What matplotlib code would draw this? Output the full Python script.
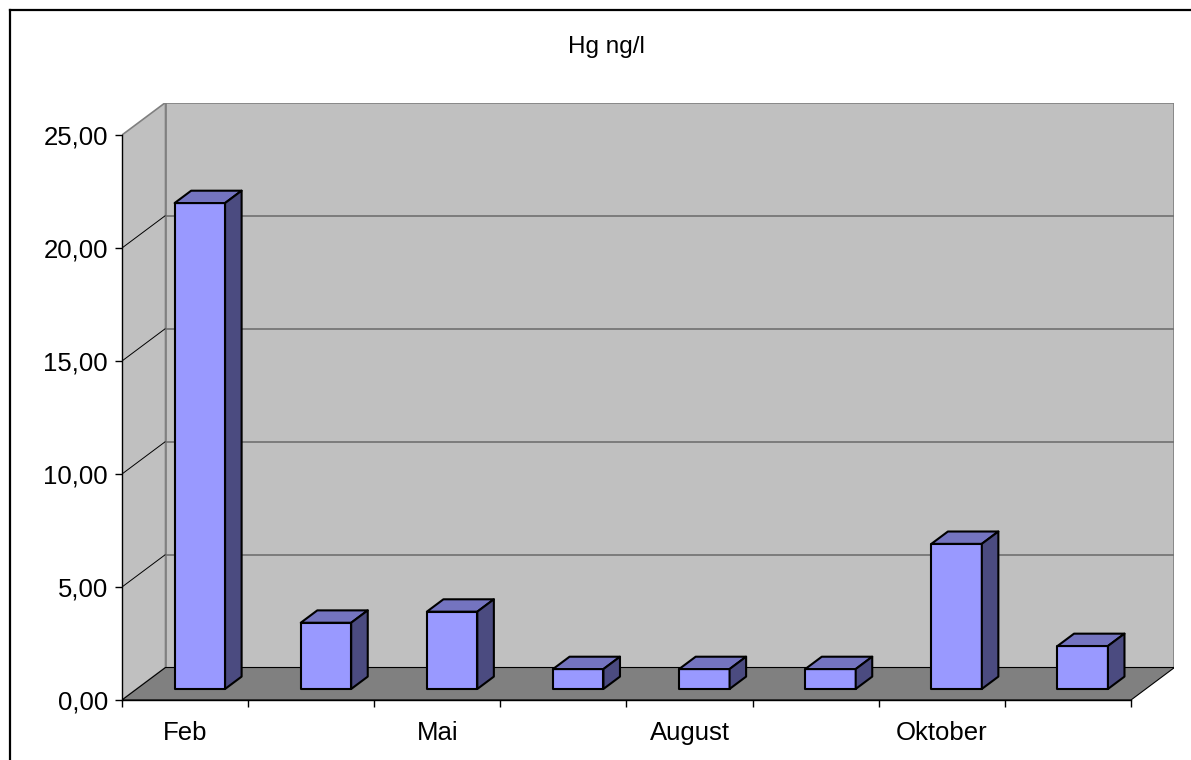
import numpy as np
import matplotlib.pyplot as plt
from matplotlib.patches import Polygon
from matplotlib.lines import Line2D

plt.rcParams['font.family'] = ['Liberation Sans', 'DejaVu Sans']

# data
months = ['Feb', 'April', 'Mai', 'Juli', 'August', 'September', 'Oktober', 'November']
hg_values = [21.5, 2.93, 3.42, 0.88, 0.88, 0.88, 6.42, 1.90]
y_ticks = [0, 5, 10, 15, 20, 25]
title = 'Hg ng/l'

# fake 3d: depth offset in data units (x in categories, y in values)
DX = 0.345
DY = 1.438
BAR_W = 0.4
D0, D1 = 0.34, 0.72

FRONT = '#9999ff'
TOP = '#7474c0'
SIDE = '#4b4b80'


def proj(x, y, d):
    return (x + d * DX, y + d * DY)


W, H = 1191, 760
fig = plt.figure(figsize=(W / 100, H / 100), dpi=100)
ax = fig.add_axes([122 / W, (H - 700) / H, (1174.5 - 122) / W, (700 - 102.5) / H])
n = len(months)
ymax = y_ticks[-1]
ax.set_xlim(0, n + DX)
ax.set_ylim(0, ymax + DY)
ax.patch.set_visible(False)

# walls and floor
floor = Polygon([proj(0, 0, 0), proj(n, 0, 0), proj(n, 0, 1), proj(0, 0, 1)],
                facecolor='#808080', edgecolor='black', lw=0.8, zorder=1)
side = Polygon([proj(0, 0, 0), proj(0, 0, 1), proj(0, ymax, 1), proj(0, ymax, 0)],
               facecolor='#c0c0c0', edgecolor='#808080', lw=1.2, zorder=1)
back = Polygon([proj(0, 0, 1), proj(n, 0, 1), proj(n, ymax, 1), proj(0, ymax, 1)],
               facecolor='#c0c0c0', edgecolor='#808080', lw=1.2, zorder=1)
for p in (back, side, floor):
    ax.add_patch(p)

for v in y_ticks[1:-1]:
    x0, y0 = proj(0, v, 0)
    x1, y1 = proj(0, v, 1)
    x2, y2 = proj(n, v, 1)
    ax.plot([x0, x1], [y0, y1], color='black', lw=0.7, zorder=2)
    ax.plot([x1, x2], [y1, y2], color='#707070', lw=1.2, zorder=2)

# bars
for i, val in enumerate(hg_values):
    xl = i + (1 - BAR_W) / 2
    xr = xl + BAR_W
    front = [proj(xl, 0, D0), proj(xr, 0, D0), proj(xr, val, D0), proj(xl, val, D0)]
    top = [proj(xl, val, D0), proj(xr, val, D0), proj(xr, val, D1), proj(xl, val, D1)]
    right = [proj(xr, 0, D0), proj(xr, 0, D1), proj(xr, val, D1), proj(xr, val, D0)]
    for pts, c in ((front, FRONT), (top, TOP), (right, SIDE)):
        ax.add_patch(Polygon(pts, facecolor=c, edgecolor='black', lw=1.5,
                             joinstyle='round', zorder=3))

# axes lines and ticks
for s in ('top', 'right'):
    ax.spines[s].set_visible(False)
ax.spines['left'].set_bounds(0, ymax)
ax.spines['bottom'].set_bounds(0, n)
for s in ('left', 'bottom'):
    ax.spines[s].set_linewidth(1.0)
    ax.spines[s].set_zorder(4)

ax.set_yticks(y_ticks)
ax.set_yticklabels([f'{v:.2f}'.replace('.', ',') for v in y_ticks])
ax.set_xticks(range(n + 1))
ax.set_xticklabels([])
ax.set_xticks([i + 0.5 for i in range(0, n, 2)], minor=True)
ax.set_xticklabels(months[::2], minor=True)
ax.tick_params(axis='y', length=5, width=1, pad=5, labelsize=18.5)
ax.tick_params(axis='x', which='major', length=5, width=1)
ax.tick_params(axis='x', which='minor', length=0, pad=15, labelsize=18.5)

fig.text(606 / W, 1 - 47 / H, title, ha='center', va='center', fontsize=17.5)

# chart frame
fig.add_artist(Line2D([10 / W, 10 / W], [0, 1 - 10 / H], color='black', lw=1.6))
fig.add_artist(Line2D([10 / W, 1], [1 - 10 / H, 1 - 10 / H], color='black', lw=1.6))

fig.savefig('out.png', dpi=100)
